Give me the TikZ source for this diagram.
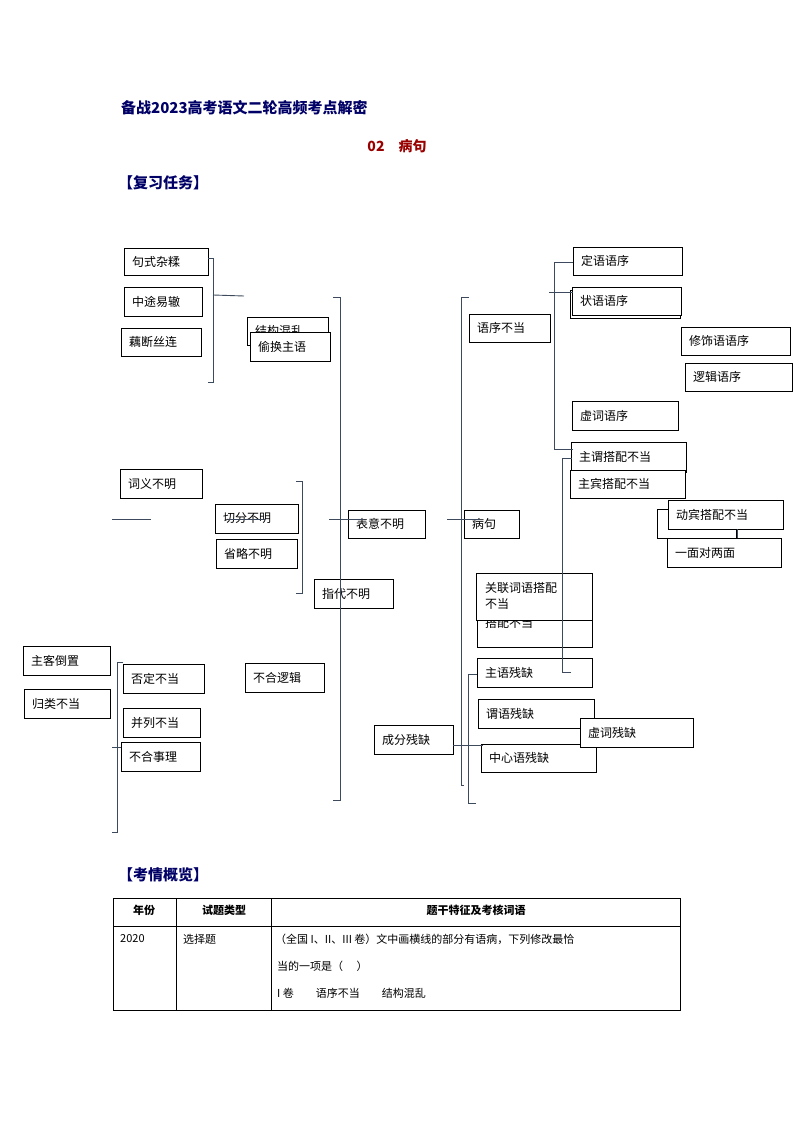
\documentclass[tikz,border=0pt]{standalone}
\usepackage{fontspec}
\setmainfont{Noto Sans CJK SC}
\definecolor{lnc}{HTML}{3D4A5E}
\begin{document}
\begin{tikzpicture}[x=1pt,y=-1pt,
  bx/.style={draw=black,line width=0.8pt,fill=white,inner sep=0pt},
  br/.style={draw=lnc,line width=0.9pt},
  lbl/.style={font=\fontsize{12}{14}\selectfont,anchor=west,inner sep=0pt},
  hd/.style={font=\fontsize{15}{18}\selectfont\bfseries,text=blue!40!black,anchor=west,inner sep=0pt},
  tb/.style={font=\fontsize{11}{13}\selectfont,anchor=west,inner sep=0pt}]
\useasboundingbox (0,0) rectangle (794,1123);
\fill[white] (0,0) rectangle (794,1123);
\node[hd] (t1) at (121,108) {备战2023高考语文二轮高频考点解密};
\node[font=\fontsize{14}{16}\selectfont\bfseries,text=red!60!black,inner sep=0pt] (t2) at (397,146) {02\quad 病句};
\node[hd] (t3) at (118,183) {【复习任务】};
\node[hd] (t4) at (118,875) {【考情概览】};
% boxes
\newcommand\bxx[6]{\draw[bx] (#2,#3) rectangle (#4,#5); \node[lbl] (#1) at (#2+8,{(#3+#5)/2}) {#6};}
\bxx{a1}{124}{248}{208}{275}{句式杂糅}
\bxx{a2}{124}{287}{202}{316}{中途易辙}
\bxx{a3}{121}{328}{201}{356}{藕断丝连}
\bxx{a4}{247}{317}{328}{345}{结构混乱}
\bxx{a5}{250}{332}{330}{361}{偷换主语}
\bxx{b1}{120}{469}{202}{498}{词义不明}
\bxx{b2}{215}{504}{298}{533}{切分不明}
\bxx{b3}{216}{539}{297}{568}{省略不明}
\bxx{b4}{314}{579}{393}{608}{指代不明}
\bxx{b5}{348}{510}{425}{538}{表意不明}
\bxx{c0}{464}{510}{519}{538}{病句}
\bxx{c1}{469}{314}{550}{342}{语序不当}
\bxx{c2}{573}{247}{682}{275}{定语语序}
\draw[bx] (570,290) rectangle (680,318);
\bxx{c3}{572}{287}{681}{315}{状语语序}
\bxx{c4}{681}{327}{790}{355}{修饰语语序}
\bxx{c5}{685}{363}{792}{391}{逻辑语序}
\bxx{c6}{572}{401}{678}{430}{虚词语序}
\bxx{d1}{571}{442}{686}{472}{主谓搭配不当}
\bxx{d2}{570}{470}{685}{498}{主宾搭配不当}
\draw[bx] (657,509) rectangle (736,538);
\bxx{d3}{668}{500}{783}{529}{动宾搭配不当}
\bxx{d4}{667}{538}{781}{567}{一面对两面}
\bxx{d5}{477}{598}{592}{647}{\raisebox{-6pt}{搭配不当}}
\draw[bx] (476,573) rectangle (592,620);
\node[lbl,align=left,font=\fontsize{12}{16}\selectfont] (d6) at (485,596) {关联词语搭配\\不当};
\bxx{e1}{477}{658}{592}{687}{主语残缺}
\bxx{e2}{478}{699}{594}{728}{谓语残缺}
\bxx{e4}{481}{744}{596}{772}{中心语残缺}
\bxx{e3}{580}{718}{693}{747}{虚词残缺}
\bxx{e0}{374}{725}{453}{754}{成分残缺}
\bxx{f1}{23}{646}{110}{675}{主客倒置}
\bxx{f2}{24}{689}{110}{718}{归类不当}
\bxx{f3}{123}{664}{204}{693}{否定不当}
\bxx{f4}{123}{708}{200}{737}{并列不当}
\bxx{f5}{121}{742}{200}{771}{不合事理}
\bxx{f6}{245}{663}{324}{692}{不合逻辑}
% brackets
\draw[br] (208,258) -- (213,258) -- (213,382) -- (208,382);
\draw[br] (213,295) -- (244,296);
\draw[br] (333,297) -- (340,297) -- (340,800) -- (333,800);
\draw[br] (329,519) -- (364,519);
\draw[br] (296,481) -- (302,481) -- (302,593) -- (296,593);
\draw[br] (112,519) -- (151,519);
\draw[br] (228,519) -- (265,519);
\draw[br] (469,297) -- (461,297) -- (461,785) -- (464,785);
\draw[br] (447,519) -- (480,519);
\draw[br] (573,262) -- (554,262) -- (554,449) -- (573,449);
\draw[br] (549,292) -- (573,292);
\draw[br] (572,458) -- (562,458) -- (562,672) -- (571,672);
\draw[br] (477,674) -- (468,674) -- (468,803) -- (476,803);
\draw[br] (453,745) -- (483,745);
\draw[br] (123,662) -- (117,662) -- (117,832) -- (112,832);
\draw[br] (112,747) -- (121,747);
\draw[br] (737,529) -- (737,538);
% table
\draw[line width=0.6pt] (113,898) rectangle (680,1010);
\draw[line width=0.6pt] (113,926) -- (680,926);
\draw[line width=0.6pt] (176,898) -- (176,1010);
\draw[line width=0.6pt] (271,898) -- (271,1010);
\node[tb,font=\fontsize{11}{13}\selectfont\bfseries,anchor=center] (h1) at (144,910) {年份};
\node[tb,font=\fontsize{11}{13}\selectfont\bfseries,anchor=center] (h2) at (224,910) {试题类型};
\node[tb,font=\fontsize{11}{13}\selectfont\bfseries,anchor=center] (h3) at (476,910) {题干特征及考核词语};
\node[tb] (r1) at (120,939) {2020};
\node[tb] (r2) at (183,939) {选择题};
\node[tb] (r3) at (275,939) {（全国 I、II、III 卷）文中画横线的部分有语病，下列修改最恰};
\node[tb] (r4) at (277,966) {当的一项是（\quad\ ）};
\node[tb] (r5) at (277,993) {I 卷\qquad 语序不当\qquad 结构混乱};
\end{tikzpicture}
\end{document}
